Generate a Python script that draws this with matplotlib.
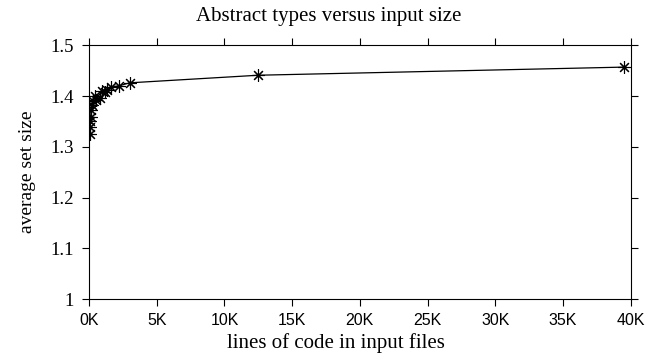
import matplotlib
matplotlib.use("Agg")
import matplotlib.pyplot as plt
from matplotlib.ticker import FuncFormatter

# lines of code in input files, average set size
LINES = [50, 80, 100, 120, 150, 200, 300, 420, 550, 790, 950, 1160,
         1350, 1650, 2200, 3000, 12500, 39500]
SET_SIZE = [1.326, 1.338, 1.350, 1.358, 1.372, 1.382, 1.390, 1.400, 1.393,
            1.396, 1.410, 1.408, 1.412, 1.418, 1.420, 1.426, 1.441, 1.457]

X_TICKS = [0, 5000, 10000, 15000, 20000, 25000, 30000, 35000, 40000]
Y_TICKS = [1.0, 1.1, 1.2, 1.3, 1.4, 1.5]

SERIF = "Liberation Serif"
SANS = "Liberation Sans"

fig = plt.figure(figsize=(6.57, 3.58), dpi=100)
ax = fig.add_axes([0.1355, 0.1648, 0.8245, 0.7087])

ax.plot(LINES, SET_SIZE, color="black", lw=0.9,
        marker=(8, 2, 0), markersize=9, markeredgewidth=0.8)

ax.set_xlim(0, 40000)
ax.set_ylim(1.0, 1.5)
ax.set_xticks(X_TICKS)
ax.set_yticks(Y_TICKS)
ax.xaxis.set_major_formatter(FuncFormatter(lambda v, p: f"{int(v / 1000)}K"))
ax.yaxis.set_major_formatter(FuncFormatter(lambda v, p: f"{v:g}"))

ax.tick_params(direction="out", length=5, width=0.8, top=True, right=True)
ax.tick_params(axis="x", pad=5)
ax.tick_params(axis="y", pad=6)
for lab in ax.get_xticklabels():
    lab.set_fontfamily(SANS)
    lab.set_fontsize(11.5)
for lab in ax.get_yticklabels():
    lab.set_fontfamily(SERIF)
    lab.set_fontsize(13.5)
for s in ax.spines.values():
    s.set_linewidth(0.8)

# gnuplot-style: title centred on the whole canvas
fig.text(0.5, 0.955, "Abstract types versus input size", fontfamily=SERIF,
         fontsize=15, ha="center", va="center")
ax.set_xlabel("lines of code in input files", fontfamily=SERIF, fontsize=15,
              labelpad=3)
ax.xaxis.set_label_coords(0.456, -0.135)
ax.set_ylabel("average set size", fontfamily=SERIF, fontsize=14, labelpad=10)

fig.savefig("out.png", facecolor="white")
